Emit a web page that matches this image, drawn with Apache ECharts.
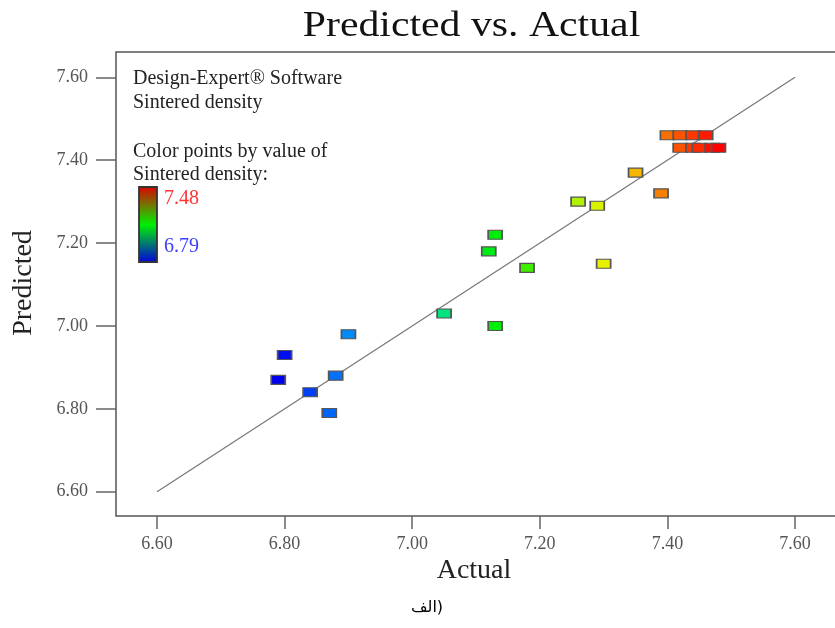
<!DOCTYPE html>
<html>
<head>
<meta charset="utf-8">
<script src="https://cdn.jsdelivr.net/npm/echarts@6/dist/echarts.min.js"></script>
<style>
html,body{margin:0;padding:0;background:#fff;}
#chart{width:835px;height:628px;}
</style>
</head>
<body>
<div id="chart"></div>
<script>
// ---- data ----
const actual = [6.80, 6.79, 6.84, 6.88, 6.87, 6.90, 7.05, 7.13, 7.12, 7.13, 7.18, 7.26, 7.29, 7.30, 7.35, 7.39,
                7.40, 7.42, 7.44, 7.46,
                7.42, 7.44, 7.45, 7.47, 7.48];
const predicted = [6.93, 6.87, 6.84, 6.88, 6.79, 6.98, 7.03, 7.00, 7.18, 7.22, 7.14, 7.30, 7.29, 7.15, 7.37, 7.32,
                   7.46, 7.46, 7.46, 7.46,
                   7.43, 7.43, 7.43, 7.43, 7.43];
const diagX = [6.60, 7.60];
const diagY = [6.60, 7.60];
const tickValues = [6.60, 6.80, 7.00, 7.20, 7.40, 7.60];
const colorMin = 6.79, colorMax = 7.48;
const titleText = 'Predicted vs. Actual';
const xName = 'Actual', yName = 'Predicted';
const infoLines = ['Design-Expert® Software', 'Sintered density', 'Color points by value of', 'Sintered density:'];
const captionText = 'الف)';

const chart = echarts.init(document.getElementById('chart'), null, {renderer: 'canvas'});
const serif = '"Liberation Serif", "Times New Roman", serif';
const pts = actual.map((a, i) => [a, predicted[i]]);
const diag = diagX.map((x, i) => [x, diagY[i]]);

const tickAxis = (len, margin) => ({
  axisLine: {show: false},
  splitLine: {show: false},
  axisTick: {show: true, length: len, customValues: tickValues, lineStyle: {color: '#666', width: 1.5}},
  axisLabel: {customValues: tickValues, formatter: v => v.toFixed(2), fontFamily: serif, fontSize: 18, color: '#555', margin: margin}
});

const infoY = [79, 103, 152, 175];

chart.setOption({
  backgroundColor: '#fff',
  animation: false,
  grid: {left: 116, top: 52, width: 730, height: 464, show: true, borderColor: '#555', borderWidth: 1.5, backgroundColor: 'transparent', outerBoundsMode: 'none'},
  xAxis: Object.assign({type: 'value', min: 6.5357, max: 7.6799}, tickAxis(13, 19)),
  yAxis: Object.assign({type: 'value', min: 6.5414, max: 7.661}, tickAxis(20, 28)),
  visualMap: {
    type: 'continuous', show: false, seriesIndex: 1, dimension: 0,
    min: colorMin, max: colorMax,
    inRange: {color: ['#0000f0', '#00d8ff', '#00ee00', '#f2f200', '#ff0000']}
  },
  series: [
    {type: 'line', data: diag, symbol: 'none', silent: true, lineStyle: {color: '#777', width: 1.2}, z: 1},
    {type: 'scatter', data: pts, symbol: 'rect', symbolSize: [14, 9], itemStyle: {borderColor: '#555', borderWidth: 1.4, opacity: 1}, z: 2}
  ],
  graphic: [
    {type: 'text', x: 471.5, y: 27, scaleX: 1.16, style: {text: titleText, font: '36px ' + serif, fill: '#111', textAlign: 'center', textVerticalAlign: 'middle'}},
    {type: 'text', x: 474, y: 571, style: {text: xName, font: '28px ' + serif, fill: '#222', textAlign: 'center', textVerticalAlign: 'middle'}},
    {type: 'text', x: 24, y: 283, rotation: Math.PI / 2, style: {text: yName, font: '28px ' + serif, fill: '#222', textAlign: 'center', textVerticalAlign: 'middle'}},
    ...infoLines.map((t, i) => ({type: 'text', x: 133, y: infoY[i], style: {text: t, font: '20px ' + serif, fill: '#222', textAlign: 'left', textVerticalAlign: 'middle'}})),
    {type: 'rect', shape: {x: 139, y: 187, width: 18, height: 75}, style: {
      fill: {type: 'linear', x: 0, y: 0, x2: 0, y2: 1, colorStops: [
        {offset: 0, color: '#e00000'}, {offset: 0.5, color: '#00f000'}, {offset: 1, color: '#0000e0'}]},
      stroke: '#333', lineWidth: 1.8}},
    {type: 'text', x: 164, y: 199, style: {text: String(colorMax.toFixed(2)), font: '20px ' + serif, fill: '#ff3333', textAlign: 'left', textVerticalAlign: 'middle'}},
    {type: 'text', x: 164, y: 247, style: {text: String(colorMin.toFixed(2)), font: '20px ' + serif, fill: '#3d3dff', textAlign: 'left', textVerticalAlign: 'middle'}},
    {type: 'text', x: 427, y: 608, style: {text: captionText, font: '16px "DejaVu Sans", sans-serif', fill: '#000', textAlign: 'center', textVerticalAlign: 'middle'}}
  ]
});
</script>
</body>
</html>
